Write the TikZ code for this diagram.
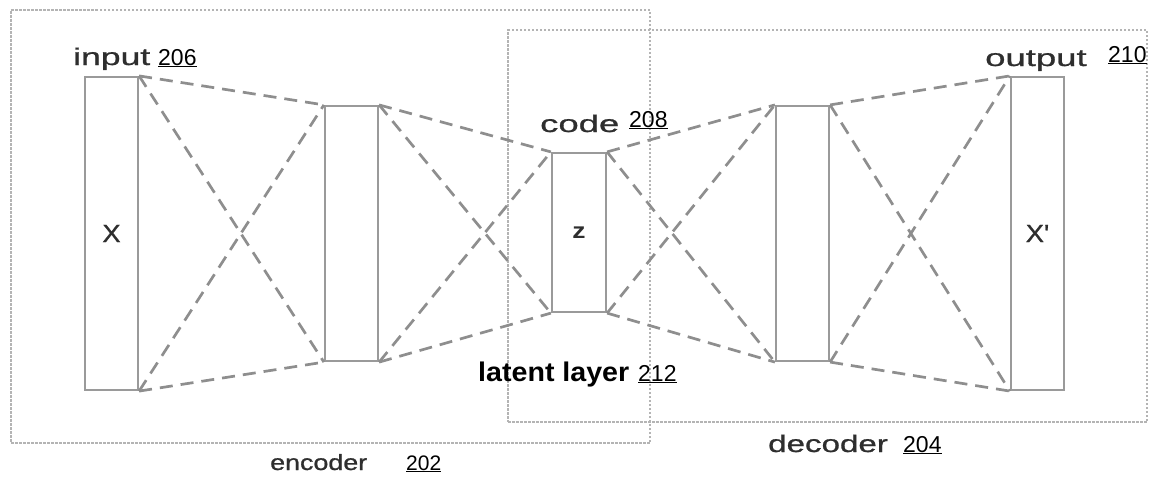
\documentclass[tikz,border=0pt]{standalone}
\usepackage{fontspec}
\setmainfont{Liberation Sans}
\newfontfamily\labfont[FakeBold=0.8]{Liberation Sans}
\newfontfamily\boldfont{Liberation Sans Bold}
\definecolor{linegray}{HTML}{8E8E8E}
\definecolor{boxgray}{HTML}{B4B4B4}
\definecolor{layergray}{HTML}{9A9A9A}
\definecolor{textgray}{HTML}{2E2E2E}
\newcommand{\wtxt}[2]{\scalebox{#1}[1]{#2}}
\tikzset{
  layerbox/.style={draw=layergray, line width=2.2pt, fill=white, inner sep=0pt,
    font=\labfont\fontsize{25}{25}\selectfont, text=textgray},
  conn/.style={draw=linegray, line width=2.7pt, dash pattern=on 13pt off 8pt},
  groupbox/.style={draw=boxgray, line width=1.3pt, dash pattern=on 2.5pt off 1.5pt, inner sep=0pt},
  lab/.style={anchor=base west, inner sep=0pt, text=textgray, font=\labfont\fontsize{24}{24}\selectfont},
  num/.style={anchor=base west, inner sep=0pt, text=black, font=\fontsize{23}{23}\selectfont},
}
\begin{document}
\begin{tikzpicture}[x=1pt, y=-1pt]
\useasboundingbox (0,0) rectangle (1149,483);
% group boxes
\node[groupbox, minimum width=639pt, minimum height=433pt] (enc) at (330.5,226.5) {};
\node[groupbox, minimum width=639pt, minimum height=392pt] (dec) at (827.5,226) {};
% layers
\node[layerbox, minimum width=53pt, minimum height=313pt] (l1) at (111.5,233.5) {\wtxt{1.1}{X}};
\node[layerbox, minimum width=53pt, minimum height=255pt] (l2) at (351.5,233.5) {};
\node[layerbox, minimum width=54pt, minimum height=159pt] (l3) at (579,232.5) {\boldfont\fontsize{22}{22}\selectfont\wtxt{1.2}{z}};
\node[layerbox, minimum width=53pt, minimum height=255pt] (l4) at (802.5,233.5) {};
\node[layerbox, minimum width=53pt, minimum height=313pt] (l5) at (1037.5,233.5) {\wtxt{1.1}{X\char"0027}};
% connectors
\foreach \a/\b in {l1/l2, l2/l3, l3/l4, l4/l5}{
  \draw[conn] (\a.north east) -- (\b.north west);
  \draw[conn] (\a.north east) -- (\b.south west);
  \draw[conn] (\a.south east) -- (\b.north west);
  \draw[conn] (\a.south east) -- (\b.south west);
}
% labels
\node[lab] (tin) at (73,65) {\wtxt{1.48}{input}};
\node[num] (nin) at (158,65) {\underline{206}};
\node[lab] (tcode) at (540,132) {\wtxt{1.52}{code}};
\node[num] (ncode) at (629,127) {\underline{208}};
\node[lab] (tout) at (985,66) {\wtxt{1.52}{output}};
\node[num] (nout) at (1108,62) {\underline{210}};
\node[anchor=base west, inner sep=0pt, font=\boldfont\fontsize{27}{27}\selectfont] (tlat) at (478,381) {\wtxt{1.06}{latent layer}};
\node[num] (nlat) at (638,381) {\underline{212}};
\node[lab, font=\labfont\fontsize{22}{22}\selectfont] (tenc) at (270,470) {\wtxt{1.22}{encoder}};
\node[num, font=\fontsize{21}{21}\selectfont] (nenc) at (406,470) {\underline{202}};
\node[lab] (tdec) at (768,452) {\wtxt{1.38}{decoder}};
\node[num] (ndec) at (903,452) {\underline{204}};
\end{tikzpicture}
\end{document}
